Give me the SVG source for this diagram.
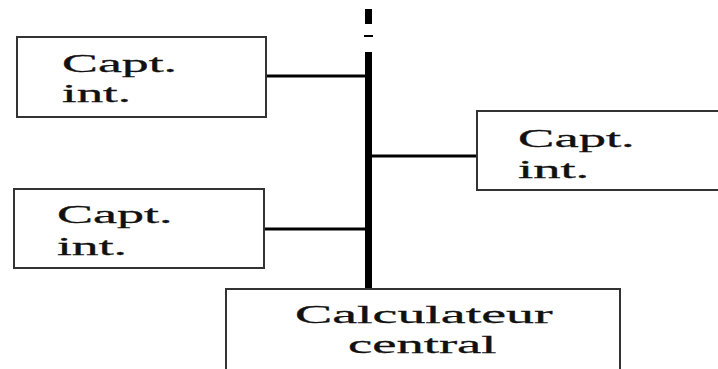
<svg xmlns="http://www.w3.org/2000/svg" width="718" height="369" viewBox="0 0 718 369">
<style>
.box{fill:#fff;stroke:#333;stroke-width:2}
.lbl{font-family:"Liberation Serif","Times New Roman",serif;font-size:26px;fill:#111;stroke:#111;stroke-width:0.3}
.wire{stroke:#000;stroke-width:3;fill:none}
.bus{stroke:#000;stroke-width:7;fill:none}
</style>
<rect width="718" height="369" fill="#fff"/>
<g id="connectors">
<line class="bus" x1="368.5" y1="9" x2="368.5" y2="24"/>
<line x1="364" y1="36" x2="373" y2="36" stroke="#000" stroke-width="2"/>
<line class="bus" x1="368.5" y1="52" x2="368.5" y2="289"/>
<line class="wire" x1="266" y1="76" x2="366" y2="76"/>
<line class="wire" x1="371" y1="156" x2="478" y2="156"/>
<line class="wire" x1="264" y1="229" x2="366" y2="229"/>
</g>
<g id="capt1">
<rect class="box" x="17" y="37" width="249" height="80"/>
<text class="lbl" transform="translate(62,72) scale(2.07,1)">Capt.</text>
<text class="lbl" transform="translate(62,102) scale(2.03,1)">int.</text>
</g>
<g id="capt2">
<rect class="box" x="477" y="111" width="250" height="79"/>
<text class="lbl" transform="translate(518,147) scale(2.1,1)">Capt.</text>
<text class="lbl" transform="translate(518,178) scale(2.1,1)">int.</text>
</g>
<g id="capt3">
<rect class="box" x="14" y="189" width="250" height="79"/>
<text class="lbl" transform="translate(57,223) scale(2.08,1)">Capt.</text>
<text class="lbl" transform="translate(57,255) scale(2.06,1)">int.</text>
</g>
<g id="calculateur">
<rect class="box" x="226" y="289" width="394" height="90"/>
<text class="lbl" transform="translate(295,323) scale(2.15,1)">Calculateur</text>
<text class="lbl" transform="translate(348,353) scale(2.1,1)">central</text>
</g>
</svg>
